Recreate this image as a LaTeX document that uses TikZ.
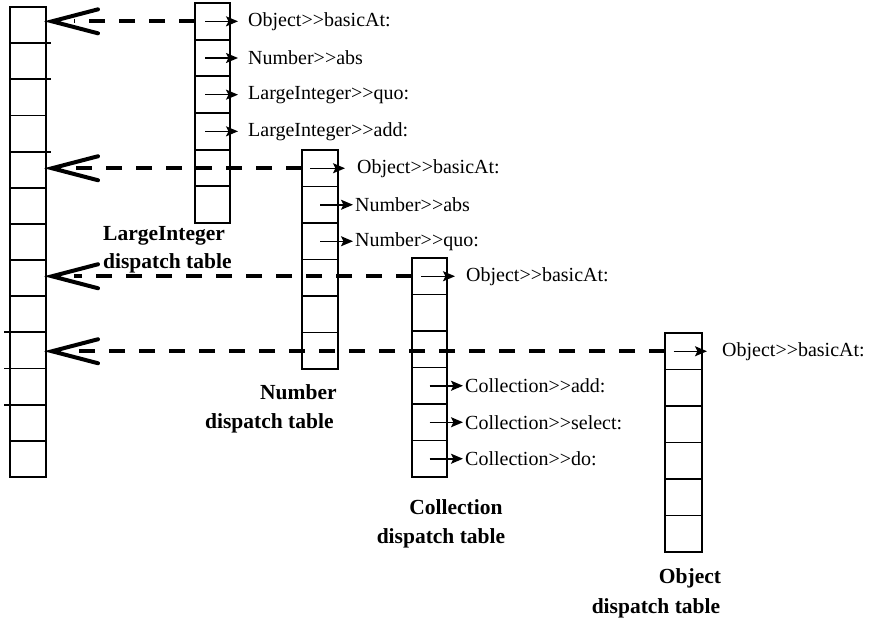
\documentclass[tikz,border=0pt]{standalone}
\usepackage{fontspec}
\setmainfont{Liberation Serif}
\usetikzlibrary{arrows.meta,calc}
% message-send separator, kept as two separate ">" glyphs
\newcommand{\msgsep}{>\kern0pt>}

\begin{document}
\begin{tikzpicture}[x=1pt,y=-1pt,
  cell/.style={draw,line width=1.8pt,minimum width=36pt,minimum height=36.5pt,inner sep=0pt,outer sep=0pt},
  lcell/.style={cell,minimum height=36.15pt},
  stub/.style={line width=1.8pt},
  ptr/.style={line width=1.5pt,-{Stealth[length=12pt,width=10pt,inset=2.5pt]}},
  link/.style={line width=3.8pt,dash pattern=on 16pt off 14pt},
  barb/.style={line width=4pt,line cap=round,line join=miter},
  meth/.style={font=\fontsize{20}{22}\selectfont,inner sep=0pt,anchor=west},
  caption/.style={font=\bfseries\fontsize{21.5}{23}\selectfont,inner sep=0pt}]
\useasboundingbox (0,0) rectangle (889,626);

% method table shared by all classes
\foreach \i in {1,...,13} \node[lcell] (L\i) at (28,{7+36.15*(\i-0.5)}) {};
% hand-drawn dividers that run past the column edges
\foreach \i in {1,2,4} \draw[stub] (L\i.south east) -- ++(5,0);
\foreach \i in {9,10,11} \draw[stub] (L\i.south west) -- ++(-6,0);

% per-class dispatch tables
\foreach \i in {1,...,6} \node[cell,minimum width=35pt] (A\i) at (212.5,{3+36.67*(\i-0.5)}) {};
\foreach \i in {1,...,6} \node[cell] (N\i) at (320,{150+36.5*(\i-0.5)}) {};
\foreach \i in {1,...,6} \node[cell,minimum width=35pt] (C\i) at (429.5,{258+36.5*(\i-0.5)}) {};
\foreach \i in {1,...,6} \node[cell,minimum width=37pt] (O\i) at (683.5,{333+36.5*(\i-0.5)}) {};

% LargeInteger entries
\node[meth] (a1) at ([xshift=18pt]A1.east) {Object\msgsep basicAt:};
\node[meth] (a2) at ([xshift=18pt]A2.east) {Number\msgsep abs};
\node[meth] (a3) at ([xshift=18pt]A3.east) {LargeInteger\msgsep quo:};
\node[meth] (a4) at ([xshift=18pt]A4.east) {LargeInteger\msgsep add:};
\foreach \i in {1,...,4} \draw[ptr,shorten >=10pt] ([xshift=-7.5pt]A\i.center) -- (a\i.west);

% Number entries
\node[meth] (n1) at ([xshift=19pt]N1.east) {Object\msgsep basicAt:};
\node[meth] (n2) at ([xshift=17pt]N2.east) {Number\msgsep abs};
\node[meth] (n3) at ([xshift=17pt]N3.east) {Number\msgsep quo:};
\draw[ptr,shorten >=12pt] ([xshift=-10pt]N1.center) -- (n1.west);
\foreach \i in {2,3} \draw[ptr,shorten >=2pt] (N\i.center) -- (n\i.west);

% Collection entries
\node[meth] (c1) at ([xshift=19pt]C1.east) {Object\msgsep basicAt:};
\node[meth] (c4) at ([xshift=18pt]C4.east) {Collection\msgsep add:};
\node[meth] (c5) at ([xshift=18pt]C5.east) {Collection\msgsep select:};
\node[meth] (c6) at ([xshift=18pt]C6.east) {Collection\msgsep do:};
\draw[ptr,shorten >=11pt] ([xshift=-8.5pt]C1.center) -- (c1.west);
\foreach \i in {4,5,6} \draw[ptr,shorten >=2pt] (C\i.center) -- (c\i.west);

% Object entries
\node[meth] (o1) at ([xshift=20pt]O1.east) {Object\msgsep basicAt:};
\draw[ptr,shorten >=15pt] ([xshift=-10pt]O1.center) -- (o1.west);

% links from each dispatch table to the shared table
\foreach \t/\l in {A1/L1,N1/L5,C1/L8,O1/L10} {
  \draw[link] (\t.west) -- ($(\t.west -| \l.east)+(28,0)$);
  \draw[barb] ($(\t.west -| \l.east)+(52,-12)$) -- ($(\t.west -| \l.east)+(6,0)$) -- ($(\t.west -| \l.east)+(52,12)$);
}

% captions
\node[caption,anchor=west] (capA1) at (103,236) {LargeInteger};
\node[caption,anchor=west] (capA2) at (103,263) {dispatch table};
\node[caption,anchor=west] (capN1) at (260,392) {Number};
\node[caption,anchor=west] (capN2) at (205,423) {dispatch table};
\node[caption] (capC1) at (456,507) {Collection};
\node[caption] (capC2) at (441,538) {dispatch table};
\node[caption] (capO1) at (690,578) {Object};
\node[caption] (capO2) at (656,608) {dispatch table};
\end{tikzpicture}
\end{document}
